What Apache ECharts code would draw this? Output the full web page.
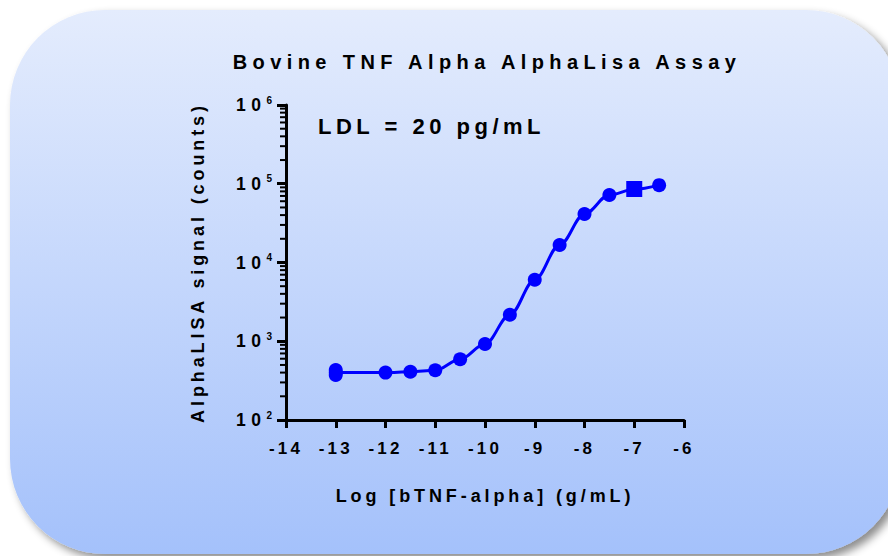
<!DOCTYPE html>
<html>
<head>
<meta charset="utf-8">
<script src="https://cdn.jsdelivr.net/npm/echarts@6/dist/echarts.min.js"></script>
<style>
html, body { margin: 0; padding: 0; background: #ffffff; }
#chart { width: 888px; height: 556px; }
#chart text[style*="20px"] { letter-spacing: 5.4px; }
#chart text[style*="22px"] { letter-spacing: 4.5px; }
#chart text[style*="18px"] { letter-spacing: 3.9px; }
#chart text[style*="17px"] { letter-spacing: 3.2px; }
#chart text[style*="17.5px"] { letter-spacing: 5.5px; }
</style>
</head>
<body>
<div id="chart"></div>
<script>
// ---- data ----
const titleText = 'Bovine TNF Alpha AlphaLisa Assay';
const annotationText = 'LDL = 20 pg/mL';
const xAxisTitle = 'Log [bTNF-alpha] (g/mL)';
const yAxisTitle = 'AlphaLISA signal (counts)';

// log concentration (g/mL)
const logConc = [-13, -12, -11.5, -11, -10.5, -10, -9.5, -9, -8.5, -8, -7.5, -7, -6.5];
// mean AlphaLISA signal (counts)
const meanSignal = [400, 400, 410, 428, 590, 922, 2170, 6040, 16700, 41300, 72000, 85000, 96000];
// extra replicate markers visible in the picture
const replicateConc = [-13, -13, -7];
const replicateSignal = [431, 373, 85800];
const replicateSymbol = ['circle', 'circle', 'rect'];
const replicateSize = [14, 14, 16];

// axis settings
const xMin = -14, xMax = -6, xStep = 1;
const yMin = 100, yMax = 1000000;

// minor ticks of the log axis (2..9 x each decade)
const minorTicks = [];
for (let d = yMin; d < yMax; d *= 10) {
  for (let k = 2; k <= 9; k++) minorTicks.push(k * d);
}

const FONT = "'Liberation Sans', Arial, sans-serif";
const BLUE = '#0000ff';

const chart = echarts.init(document.getElementById('chart'), null, { renderer: 'svg' });

const option = {
  animation: false,
  backgroundColor: '#ffffff',
  textStyle: { fontFamily: FONT },
  grid: { left: 286, right: 204, top: 105, bottom: 136, containLabel: false, outerBoundsMode: 'none' },
  graphic: [
    {
      type: 'rect', z: -10, silent: true,
      shape: { x: 10, y: 10, width: 891, height: 544, r: 95 },
      style: {
        fill: new echarts.graphic.LinearGradient(0, 0, 0, 1, [
          { offset: 0, color: '#e4ecfd' },
          { offset: 1, color: '#a4c1fb' }
        ]),
        shadowBlur: 8, shadowOffsetX: 5, shadowOffsetY: 5, shadowColor: 'rgba(0,0,0,0.45)'
      }
    },
    {
      type: 'text', z: 10, silent: true, x: 487, y: 62,
      style: { text: titleText, fontSize: 20, fontWeight: 'bold', fontFamily: FONT, fill: '#000',
               textAlign: 'center', textVerticalAlign: 'middle' }
    },
    {
      type: 'text', z: 10, silent: true, x: 318, y: 126,
      style: { text: annotationText, fontSize: 22, fontWeight: 'bold', fontFamily: FONT, fill: '#000',
               textAlign: 'left', textVerticalAlign: 'middle' }
    }
  ],
  xAxis: {
    type: 'value', min: xMin, max: xMax, interval: xStep,
    name: xAxisTitle, nameLocation: 'middle', nameGap: 67,
    nameTextStyle: { fontSize: 18, fontWeight: 'bold', color: '#000', fontFamily: FONT },
    axisLine: { show: true, onZero: false, lineStyle: { color: '#000', width: 3 } },
    axisTick: { show: true, length: 8, lineStyle: { color: '#000', width: 3 } },
    axisLabel: { margin: 20, fontSize: 17, fontWeight: 'bold', color: '#000', fontFamily: FONT },
    splitLine: { show: false }
  },
  yAxis: {
    type: 'log', logBase: 10, min: yMin, max: yMax,
    name: yAxisTitle, nameLocation: 'middle', nameGap: 79,
    nameTextStyle: { fontSize: 18, fontWeight: 'bold', color: '#000', fontFamily: FONT },
    axisLine: { show: true, lineStyle: { color: '#000', width: 3 } },
    axisTick: { show: true, length: 9, lineStyle: { color: '#000', width: 3 } },
    axisLabel: {
      margin: 14, color: '#000',
      formatter: v => '{b|10}{s|' + Math.round(Math.log10(v)) + '}',
      rich: {
        b: { fontSize: 17.5, fontWeight: 'bold', color: '#000', fontFamily: FONT, width: 26, lineHeight: 20 },
        s: { fontSize: 10, fontWeight: 'bold', color: '#000', fontFamily: FONT, lineHeight: 10, verticalAlign: 'top' }
      }
    },
    splitLine: { show: false }
  },
  series: [
    {
      type: 'custom', silent: true, clip: false, z: 5,
      data: minorTicks.map(v => [xMin, v]),
      renderItem: (params, api) => {
        const p = api.coord([api.value(0), api.value(1)]);
        return { type: 'line', shape: { x1: p[0] - 6, y1: p[1], x2: p[0], y2: p[1] },
                 style: { stroke: '#000', lineWidth: 2 } };
      }
    },
    {
      type: 'line', z: 3, silent: true,
      data: logConc.map((x, i) => [x, meanSignal[i]]),
      smooth: 0.35, smoothMonotone: 'x', symbol: 'none',
      lineStyle: { color: BLUE, width: 3 }
    },
    {
      type: 'scatter', z: 4, silent: true,
      data: logConc.map((x, i) => [x, meanSignal[i]]),
      symbol: 'circle', symbolSize: 14,
      itemStyle: { color: BLUE, opacity: 1 }
    },
    {
      type: 'scatter', z: 4, silent: true,
      data: replicateConc.map((x, i) => ({ value: [x, replicateSignal[i]], symbol: replicateSymbol[i], symbolSize: replicateSize[i] })),
      itemStyle: { color: BLUE, opacity: 1 }
    }
  ]
};
chart.setOption(option);
</script>
</body>
</html>
